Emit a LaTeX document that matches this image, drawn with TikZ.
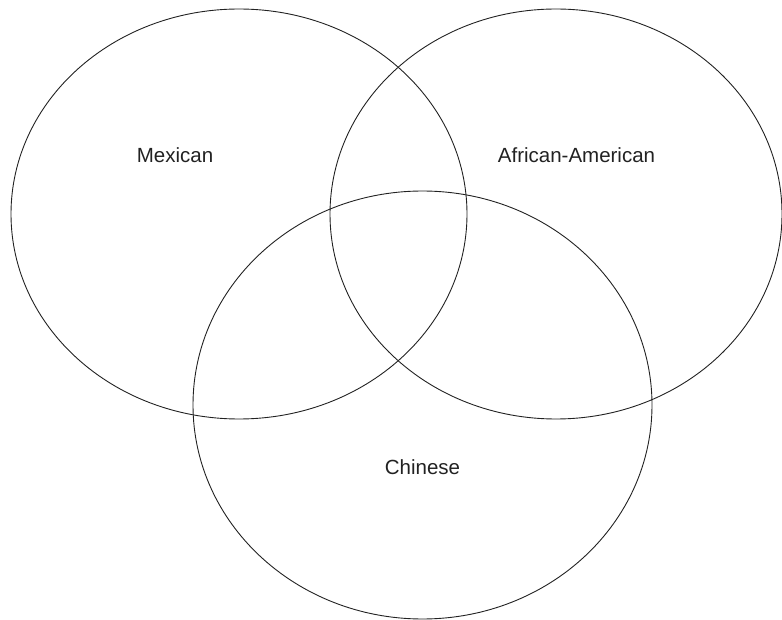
\documentclass[tikz,border=0pt]{standalone}
\usepackage{fontspec}
\setmainfont{Liberation Sans}
\usepackage{xcolor}
\definecolor{vennLine}{HTML}{222222}
\definecolor{vennText}{HTML}{222222}

\begin{document}
\begin{tikzpicture}[x=1pt, y=-1pt]
  \useasboundingbox (0,0) rectangle (782,620);
  \draw[vennLine, line width=0.9pt] (239,214) ellipse [x radius=228, y radius=205];
  \draw[vennLine, line width=0.9pt] (556,214) ellipse [x radius=226, y radius=205];
  \draw[vennLine, line width=0.9pt] (422.5,405) ellipse [x radius=229.5, y radius=214];
  \node[anchor=base, inner sep=0pt, text=vennText, font=\fontsize{20.5}{24}\selectfont] (mexican) at (175,163) {Mexican};
  \node[anchor=base, inner sep=0pt, text=vennText, font=\fontsize{20.5}{24}\selectfont] (afram) at (576.5,163) {African-American};
  \node[anchor=base, inner sep=0pt, text=vennText, font=\fontsize{20.5}{24}\selectfont] (chinese) at (422.5,474) {Chinese};
\end{tikzpicture}
\end{document}
